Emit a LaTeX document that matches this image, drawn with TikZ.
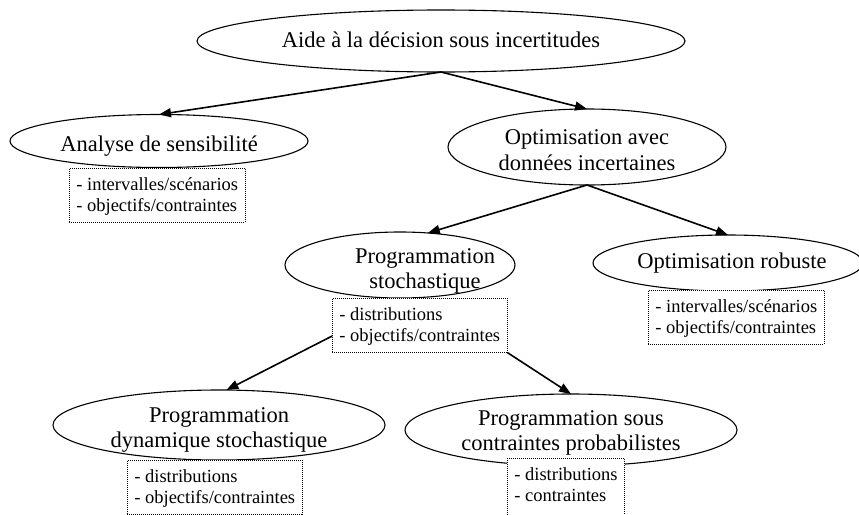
\documentclass[tikz,border=0pt]{standalone}
\usepackage{fontspec}
\setmainfont{Liberation Serif}
\usetikzlibrary{shapes.geometric,arrows.meta}
\begin{document}
\begin{tikzpicture}[x=1pt,y=-1pt,
  ell/.style={ellipse, draw, line width=1.1pt, inner sep=0pt, outer sep=0pt},
  lbl/.style={align=center, font=\fontsize{22.5}{25.5}\selectfont, inner sep=0pt},
  info/.style={draw, dash pattern=on 1pt off 1pt, line width=0.7pt, fill=white,
    align=left, anchor=north west, inner xsep=7pt, inner ysep=7pt,
    font=\fontsize{18.5}{21}\selectfont},
  arr/.style={line width=1.6pt, -{Triangle[length=12pt,width=9pt]}}
]
\useasboundingbox (0,0) rectangle (859,514);
% ellipses
\node[ell, minimum width=488pt, minimum height=62pt] (e1) at (441,41) {};
\node[ell, minimum width=298pt, minimum height=53pt] (e2) at (159,141) {};
\node[ell, minimum width=278pt, minimum height=76pt] (e3) at (587,147) {};
\node[ell, minimum width=230pt, minimum height=66pt] (e4) at (400,265) {};
\node[ell, minimum width=270pt, minimum height=56pt] (e5) at (728,263) {};
\node[ell, minimum width=332pt, minimum height=70pt] (e6) at (219,425) {};
\node[ell, minimum width=332pt, minimum height=72pt] (e7) at (571,430) {};
% info boxes
\node[info] (b2) at (69,168) {\rule{0pt}{15pt}- intervalles/scénarios\\- objectifs/contraintes};
\node[info] (b4) at (332,298) {\rule{0pt}{15pt}- distributions\\- objectifs/contraintes};
\node[info] (b5) at (648,290) {\rule{0pt}{15pt}- intervalles/scénarios\\- objectifs/contraintes};
\node[info] (b6) at (127,460) {\rule{0pt}{15pt}- distributions\\- objectifs/contraintes};
\node[info] (b7) at (507,458) {\rule{0pt}{15pt}- distributions\\- contraintes\rule[-8pt]{0pt}{8pt}};
% labels
\node[lbl] (t1) at (441,40) {Aide à la décision sous incertitudes};
\node[lbl] (t2) at (159,146) {Analyse de sensibilité};
\node[lbl] (t3) at (587,150) {Optimisation avec\\données incertaines};
\node[lbl] (t4) at (425,271) {Programmation\\stochastique};
\node[lbl] (t5) at (732,263) {Optimisation robuste};
\node[lbl] (t6) at (219,430) {Programmation\\dynamique stochastique};
\node[lbl] (t7) at (571,433) {Programmation sous\\contraintes probabilistes};
% arrows
\draw[arr] (e1.south) -- (e2.north);
\draw[arr] (e1.south) -- (e3.north);
\draw[arr] (e3.south) -- (e4.49);
\draw[arr] (e3.south) -- (e5.north);
\draw[arr] (b4.187) -- (e6.78);
\draw[arr] (b4.south east) -- (e7.north);
\end{tikzpicture}
\end{document}
